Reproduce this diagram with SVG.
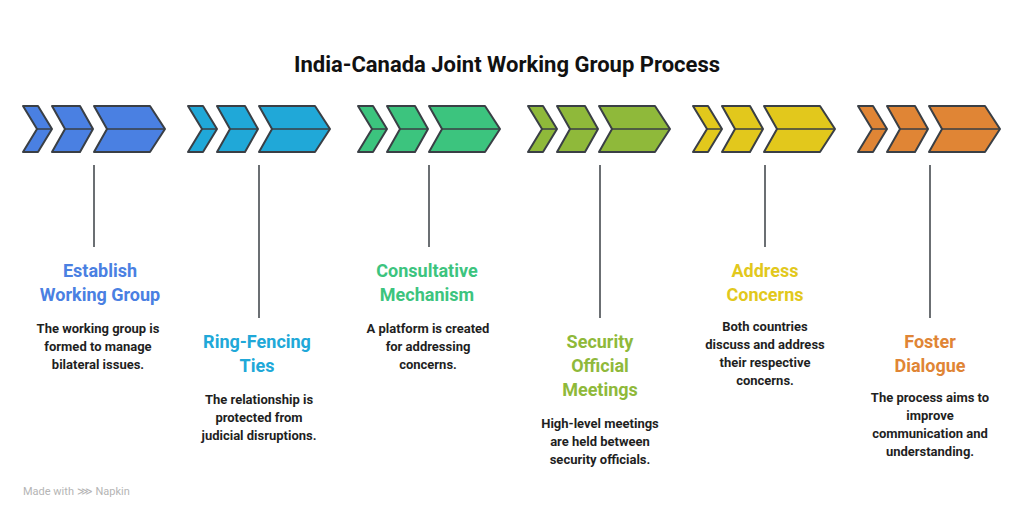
<svg xmlns="http://www.w3.org/2000/svg" width="1024" height="518" viewBox="0 0 1024 518">
<style>
.ch{stroke:#3a3f45;stroke-width:2;stroke-linejoin:round}
.mid{stroke:#3a3f45;stroke-width:1.5}
.ln{stroke:#3a3f45;stroke-width:1.5}
.t{font-family:Roboto,"Liberation Sans",sans-serif;font-weight:bold;font-size:18px;text-anchor:middle}
.d{font-family:Roboto,"Liberation Sans",sans-serif;font-weight:bold;font-size:13px;text-anchor:middle;fill:#1f1f1f}
</style>
<defs>
<g id="chev">
<polygon class="ch" points="0,106 15,106 29,129 15,152 0,152 14,129"/>
<line class="mid" x1="14" y1="129" x2="29" y2="129"/>
<polygon class="ch" points="29,106 57,106 70,129 57,152 29,152 42,129"/>
<line class="mid" x1="42" y1="129" x2="70" y2="129"/>
<polygon class="ch" points="71,106 127,106 142,129 127,152 71,152 84,129"/>
<line class="mid" x1="84" y1="129" x2="142" y2="129"/>
</g>
</defs>
<rect width="1024" height="518" fill="#fff"/>
<text x="507" y="72" font-family="Roboto,'Liberation Sans',sans-serif" font-weight="bold" font-size="22" text-anchor="middle" fill="#111">India-Canada Joint Working Group Process</text>
<g id="connectors">
<line class="ln" x1="94" y1="165" x2="94" y2="247"/>
<line class="ln" x1="259" y1="165" x2="259" y2="318"/>
<line class="ln" x1="429" y1="165" x2="429" y2="247"/>
<line class="ln" x1="600" y1="165" x2="600" y2="318"/>
<line class="ln" x1="765" y1="165" x2="765" y2="247"/>
<line class="ln" x1="930" y1="165" x2="930" y2="318"/>
</g>
<g id="n1"><use href="#chev" x="23" fill="#4a80e2"/>
<text class="t" fill="#4a80e2" x="100" y="277">Establish</text><text class="t" fill="#4a80e2" x="100" y="301">Working Group</text>
<text class="d" x="98" y="333">The working group is</text><text class="d" x="98" y="351">formed to manage</text><text class="d" x="98" y="369">bilateral issues.</text></g>
<g id="n2"><use href="#chev" x="188" fill="#20a8d8"/>
<text class="t" fill="#20a8d8" x="257" y="348">Ring-Fencing</text><text class="t" fill="#20a8d8" x="257" y="372">Ties</text>
<text class="d" x="259" y="404">The relationship is</text><text class="d" x="259" y="422">protected from</text><text class="d" x="259" y="440">judicial disruptions.</text></g>
<g id="n3"><use href="#chev" x="358" fill="#3cc47e"/>
<text class="t" fill="#3cc47e" x="427" y="277">Consultative</text><text class="t" fill="#3cc47e" x="427" y="301">Mechanism</text>
<text class="d" x="428" y="333">A platform is created</text><text class="d" x="428" y="351">for addressing</text><text class="d" x="428" y="369">concerns.</text></g>
<g id="n4"><use href="#chev" x="528" fill="#8fb93a"/>
<text class="t" fill="#8fb93a" x="600" y="348">Security</text><text class="t" fill="#8fb93a" x="600" y="372">Official</text><text class="t" fill="#8fb93a" x="600" y="396">Meetings</text>
<text class="d" x="600" y="428">High-level meetings</text><text class="d" x="600" y="446">are held between</text><text class="d" x="600" y="464">security officials.</text></g>
<g id="n5"><use href="#chev" x="693" fill="#e2c81c"/>
<text class="t" fill="#e2c81c" x="765" y="277">Address</text><text class="t" fill="#e2c81c" x="765" y="301">Concerns</text>
<text class="d" x="765" y="331">Both countries</text><text class="d" x="765" y="349">discuss and address</text><text class="d" x="765" y="367">their respective</text><text class="d" x="765" y="385">concerns.</text></g>
<g id="n6"><use href="#chev" x="858" fill="#e08535"/>
<text class="t" fill="#e08535" x="930" y="348">Foster</text><text class="t" fill="#e08535" x="930" y="372">Dialogue</text>
<text class="d" x="930" y="402">The process aims to</text><text class="d" x="930" y="420">improve</text><text class="d" x="930" y="438">communication and</text><text class="d" x="930" y="456">understanding.</text></g>
<text x="23" y="495" font-family="Roboto,'Liberation Sans',sans-serif" font-size="11" fill="#b5b5b5">Made with ⋙ Napkin</text>
</svg>
